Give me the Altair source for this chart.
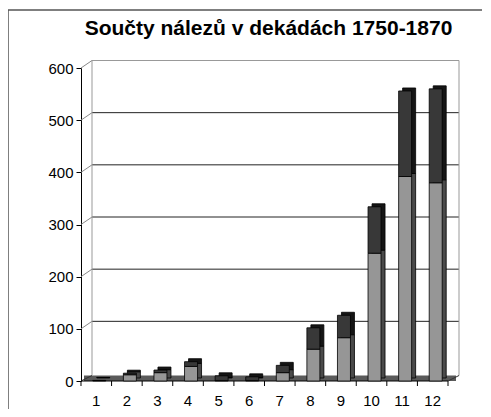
import altair as alt
import pandas as pd

# Data
dekady = list(range(1, 13))
spodni = [1, 12, 16, 28, 1, 1, 16, 61, 83, 245, 392, 380]   # light grey part
horni = [0, 3, 5, 9, 9, 7, 14, 41, 43, 89, 164, 180]        # dark part
y_ticks = [0, 100, 200, 300, 400, 500, 600]
grid_dark = [100, 200, 300, 400, 500]
grid_top = [600]

rows = []
for c, a, b in zip(dekady, spodni, horni):
    rows.append({"cat": c, "serie": "A", "val": a, "ord": 0})
    rows.append({"cat": c, "serie": "B", "val": b, "ord": 1})
df = pd.DataFrame(rows)

W, H = 367, 313
yscale = alt.Scale(domain=[0, 600], nice=False, zero=True)
xscale = alt.Scale(domain=dekady, paddingInner=0, paddingOuter=0)

x_axis = alt.Axis(title=None, labelAngle=0, ticks=False, domain=False,
                  labelFont="Liberation Sans", labelFontSize=15,
                  labelColor="#000", labelPadding=12)
y_axis = alt.Axis(title=None, values=y_ticks, grid=False,
                  labelFont="Liberation Sans", labelFontSize=15,
                  labelColor="#000", labelPadding=3, tickSize=5,
                  tickColor="#000", domainColor="#000")


def xv(field):
    return alt.X(field, scale=xscale, axis=x_axis)


def yv(field, **kw):
    return alt.Y(field, scale=yscale, axis=y_axis, **kw)


# back-wall gridlines
grid_df = pd.DataFrame({"v": grid_dark})
grid = alt.Chart(grid_df).mark_rule(color="#222", strokeWidth=1, yOffset=-7.5).encode(
    x=alt.value(11), x2=alt.value(378), y=yv("v:Q"))
top_df = pd.DataFrame({"v": grid_top})
topline = alt.Chart(top_df).mark_rule(color="#999", strokeWidth=1, yOffset=-7.5).encode(
    x=alt.value(11), x2=alt.value(378), y=yv("v:Q"))
diag_df = pd.DataFrame({"v": grid_dark + grid_top})
diag = alt.Chart(diag_df).mark_rule(color="#888", strokeWidth=1, y2Offset=-7.5).encode(
    x=alt.value(0), x2=alt.value(11), y=yv("v:Q"), y2="v:Q")

# walls
walls_df = pd.DataFrame({"v": [0]})
left_wall = alt.Chart(walls_df).mark_rule(color="#999", strokeWidth=1, yOffset=-5.5,
                                          y2Offset=-7.5).encode(
    x=alt.value(11), y=yv("v:Q"), y2=alt.datum(600))
right_wall = alt.Chart(walls_df).mark_rule(color="#999", strokeWidth=1, yOffset=-5.5,
                                           y2Offset=-7.5).encode(
    x=alt.value(378), y=yv("v:Q"), y2=alt.datum(600))

# floor
floor = alt.Chart(walls_df).mark_rect(color="#5a5a5a", yOffset=-5.5).encode(
    x=alt.value(3), x2=alt.value(375), y=yv("v:Q"), y2=alt.datum(0))
floor_left = alt.Chart(walls_df).mark_rule(color="#333", strokeWidth=1, y2Offset=-5.5).encode(
    x=alt.value(0), x2=alt.value(11), y=yv("v:Q"), y2="v:Q")
floor_right = alt.Chart(walls_df).mark_rule(color="#333", strokeWidth=1, y2Offset=-5.5).encode(
    x=alt.value(367), x2=alt.value(378), y=yv("v:Q"), y2="v:Q")
floor_front = alt.Chart(walls_df).mark_rule(color="#000", strokeWidth=1).encode(
    x=alt.value(0), x2=alt.value(367), y=yv("v:Q"))

# x ticks at category boundaries
tick_df = pd.DataFrame({"cat": dekady})
xticks = alt.Chart(tick_df).mark_rule(color="#000", xOffset=-15.3).encode(
    x=xv("cat:O"), y=alt.value(H), y2=alt.value(H + 5))
xtick_end = alt.Chart(pd.DataFrame({"cat": [12]})).mark_rule(color="#000", xOffset=15.3).encode(
    x=xv("cat:O"), y=alt.value(H), y2=alt.value(H + 5))

# bars: depth (shadow) and front faces
shadow = alt.Chart(df).mark_bar(size=13, xOffset=7, yOffset=-3, stroke="#000",
                                strokeWidth=0.8).encode(
    x=xv("cat:O"), y=yv("val:Q", stack="zero"),
    color=alt.Color("serie:N", scale=alt.Scale(domain=["A", "B"], range=["#4a4a4a", "#151515"]),
                    legend=None),
    order=alt.Order("ord:Q"))
front = alt.Chart(df).mark_bar(size=13, xOffset=3, stroke="#000", strokeWidth=0.8).encode(
    x=xv("cat:O"), y=yv("val:Q", stack="zero"),
    fill=alt.Fill("serie:N", scale=alt.Scale(domain=["A", "B"], range=["#969696", "#383838"]),
                  legend=None),
    order=alt.Order("ord:Q"))

# outer frame
frame = alt.Chart(walls_df).mark_rect(fill=None, stroke="#555", strokeWidth=1.5).encode(
    x=alt.value(-73), x2=alt.value(W + 60), y=alt.value(-58), y2=alt.value(H + 60))

chart = alt.layer(
    frame, floor, grid, topline, diag, left_wall, right_wall, floor_left, floor_right,
    floor_front, xticks, xtick_end, shadow, front
).resolve_scale(color="independent", fill="independent").properties(
    width=W, height=H,
    title=alt.TitleParams("Součty nálezů v dekádách 1750-1870", font="Liberation Sans",
                          fontSize=21, fontWeight="bold", color="#000", frame="group",
                          anchor="middle", baseline="alphabetic", offset=0, dy=47, dx=4),
    padding={"left": 73, "top": 60, "right": 34, "bottom": 28},
    autosize=alt.AutoSizeParams(type="none"),
).configure_view(stroke=None)

chart.save("out.html", embed_options={"renderer": "svg", "actions": False})
